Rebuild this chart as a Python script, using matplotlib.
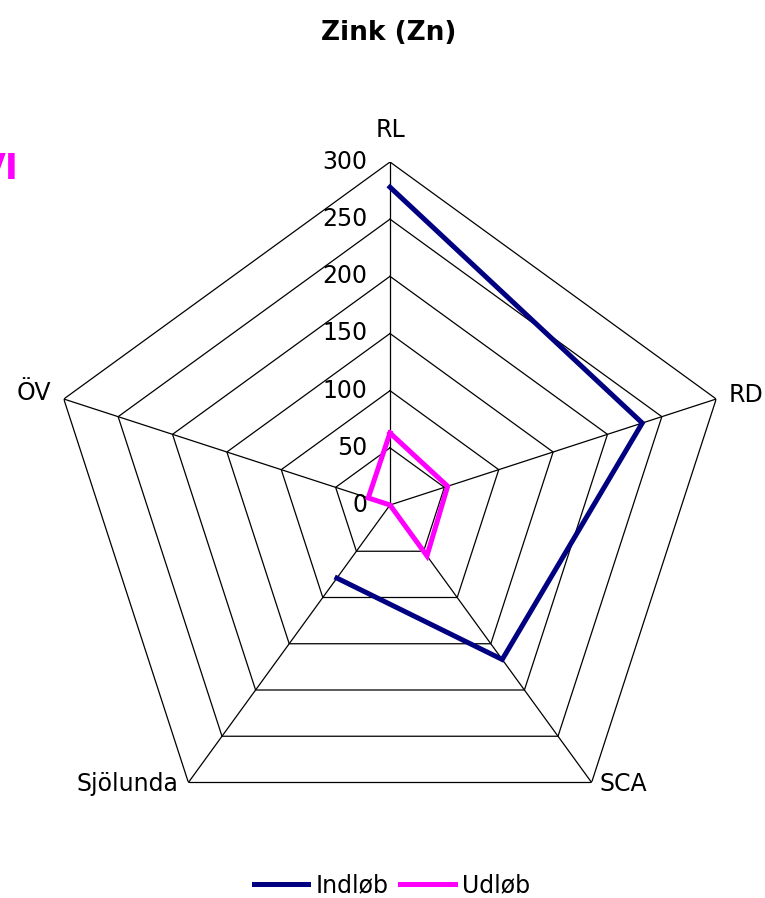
import numpy as np
import matplotlib
matplotlib.use("Agg")
import matplotlib.pyplot as plt

# ---- data ----
categories = ["RL", "RD", "SCA", "Sjölunda", "ÖV"]
indlob = [278, 232, 167, 79, np.nan]   # ÖV missing
udlob = [63, 53, 55, 0, 20]
ring_values = [50, 100, 150, 200, 250, 300]
tick_labels = ["0", "50", "100", "150", "200", "250", "300"]
title = "Zink (Zn)"
series_names = ["Indløb", "Udløb"]
series_colors = ["#000080", "#FF00FF"]

W, H, DPI = 765, 898, 100
fig = plt.figure(figsize=(W / DPI, H / DPI), dpi=DPI)
fig.patch.set_facecolor("white")

# polar axes centred at (390, 505) px, radius 343 px
cx, cy, R = 390, 505, 343
ax = fig.add_axes([(cx - R) / W, (H - cy - R) / H, 2 * R / W, 2 * R / H],
                  projection="polar")
ax.set_theta_zero_location("N")
ax.set_theta_direction(-1)
ax.set_ylim(0, 300)
ax.set_axis_off()

n = len(categories)
theta = np.arange(n) * 2 * np.pi / n
theta_closed = np.append(theta, theta[0])

# grid pentagons
for r in ring_values:
    ax.plot(theta_closed, [r] * (n + 1), color="black", lw=0.9, zorder=1)
# spokes
for t in theta:
    ax.plot([t, t], [0, 300], color="black", lw=0.9, zorder=1)

# tick labels along RL axis
fs = 17
for lab, r in zip(tick_labels, [0] + ring_values):
    ax.annotate(lab, xy=(0, r), xytext=(-16.5, 0), textcoords="offset points",
                ha="right", va="center", fontsize=fs, family="DejaVu Sans",
                color="black")

# category labels
label_cfg = [
    dict(off=(0, 23), ha="center", va="center"),
    dict(off=(9, 3), ha="left", va="center"),
    dict(off=(6, -1), ha="left", va="center"),
    dict(off=(-7, -1), ha="right", va="center"),
    dict(off=(-9, 4), ha="right", va="center"),
]
for cat, t, cfg in zip(categories, theta, label_cfg):
    ax.annotate(cat, xy=(t, 300), xytext=cfg["off"], textcoords="offset points",
                ha=cfg["ha"], va=cfg["va"], fontsize=fs, family="DejaVu Sans",
                color="black", annotation_clip=False)

# series
for vals, name, col in zip([indlob, udlob], series_names, series_colors):
    v = np.append(np.array(vals, dtype=float), vals[0])
    ax.plot(theta_closed, v, color=col, lw=3.6, label=name, zorder=3,
            solid_joinstyle="miter")

# title
fig.text(388.5 / W, 1 - 33 / H, title, ha="center", va="center",
         fontsize=19, fontweight="bold", family="DejaVu Sans")

# clipped magenta text at top-left (cut off in the reference too)
fig.text(19 / W, 1 - 169 / H, "VI", ha="right", va="center", color="#FF00FF",
         fontsize=25, fontweight="bold", family="DejaVu Sans")

# legend
handles, labels = ax.get_legend_handles_labels()
fig.legend(handles, labels, loc="center", bbox_to_anchor=(392 / W, 1 - 885 / H),
           ncol=2, frameon=False, prop={"family": "DejaVu Sans", "size": fs},
           handlelength=2.3, handletextpad=0.3, columnspacing=0.5)

fig.savefig("out.png", dpi=DPI, facecolor="white")
